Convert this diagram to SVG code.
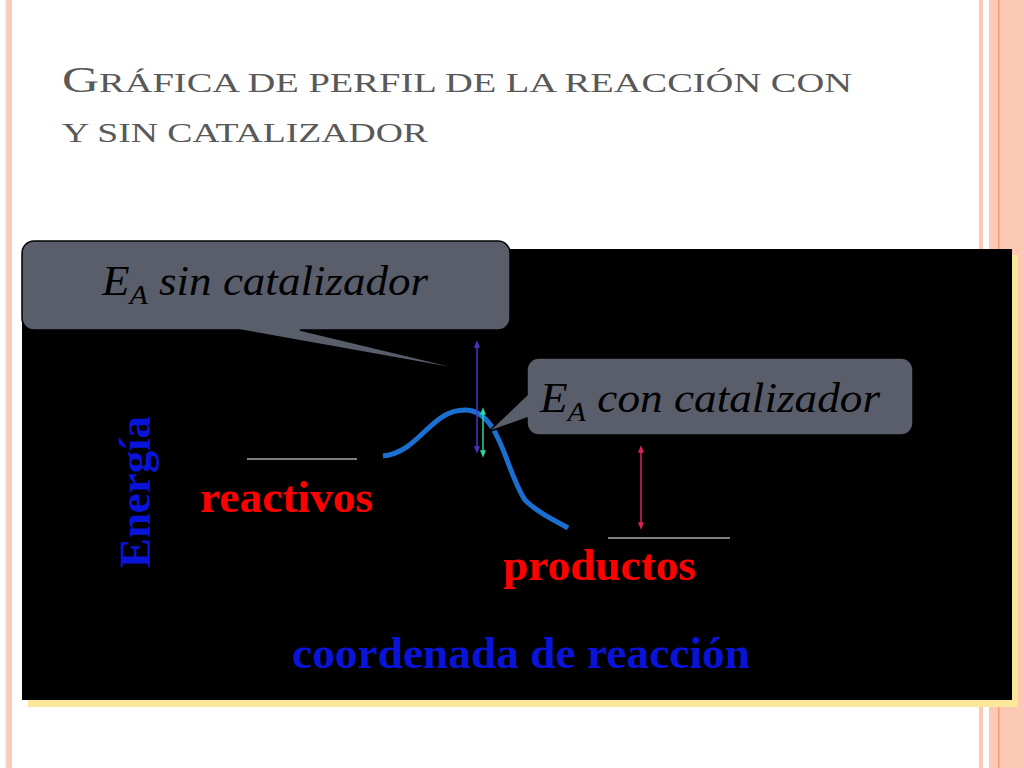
<svg xmlns="http://www.w3.org/2000/svg" width="1024" height="768" viewBox="0 0 1024 768">
<defs>
<marker id="a1" viewBox="0 0 10 10" refX="5" refY="5" markerWidth="5" markerHeight="5" orient="auto-start-reverse"><path d="M0,1L10,5L0,9z" fill="#4b32c8"/></marker>
<marker id="a2" viewBox="0 0 10 10" refX="5" refY="5" markerWidth="5" markerHeight="5" orient="auto-start-reverse"><path d="M0,1L10,5L0,9z" fill="#2ed69a"/></marker>
<marker id="a3" viewBox="0 0 10 10" refX="5" refY="5" markerWidth="5" markerHeight="5" orient="auto-start-reverse"><path d="M0,1L10,5L0,9z" fill="#e0205a"/></marker>
</defs>
<rect width="1024" height="768" fill="#fff"/>
<g id="borders">
<rect x="5" y="0" width="2" height="768" fill="#f8e0d0"/>
<rect x="7" y="0" width="5" height="768" fill="#fcc9b5"/>
<rect x="979" y="0" width="4" height="768" fill="#fcc9b5"/>
<rect x="989" y="0" width="35" height="768" fill="#fcc9b5"/>
<rect x="998" y="0" width="1.5" height="768" fill="#f0a07a"/>
</g>
<g id="title" font-family="Liberation Serif, DejaVu Serif, serif" fill="#595959">
<text x="62" y="92" textLength="790" lengthAdjust="spacingAndGlyphs"><tspan font-size="36">G</tspan><tspan font-size="27">RÁFICA DE PERFIL DE LA REACCIÓN CON</tspan></text>
<text x="62" y="142" font-size="27" textLength="366" lengthAdjust="spacingAndGlyphs">Y SIN CATALIZADOR</text>
</g>
<g id="chart" font-family="Liberation Serif, DejaVu Serif, serif" font-weight="bold" font-size="44">
<rect x="28" y="255" width="990" height="452" fill="#fbe89a"/>
<rect x="22" y="249" width="990" height="451" fill="#000"/>
<line x1="247" y1="459" x2="357" y2="459" stroke="#aaa" stroke-width="1.5"/>
<line x1="608" y1="538" x2="730" y2="538" stroke="#aaa" stroke-width="1.5"/>
<path d="M383,456 C420,452 430,410 465,410 C500,410 505,470 525,500 C540,515 555,520 568,528" fill="none" stroke="#1a6fd1" stroke-width="5"/>
<line x1="477" y1="344" x2="477" y2="450" stroke="#4b32c8" stroke-width="1.5" marker-start="url(#a1)" marker-end="url(#a1)"/>
<line x1="483" y1="411" x2="483" y2="454" stroke="#2ed69a" stroke-width="1.5" marker-start="url(#a2)" marker-end="url(#a2)"/>
<line x1="641" y1="449" x2="641" y2="526" stroke="#e0205a" stroke-width="1.5" marker-start="url(#a3)" marker-end="url(#a3)"/>
<text fill="#ff0000" x="200" y="512" textLength="173" lengthAdjust="spacingAndGlyphs">reactivos</text>
<text fill="#ff0000" x="503" y="580" textLength="193" lengthAdjust="spacingAndGlyphs">productos</text>
<text fill="#0a14d8" x="292" y="668" textLength="458" lengthAdjust="spacingAndGlyphs">coordenada de reacción</text>
<text fill="#0a14d8" transform="translate(150,568) rotate(-90)" textLength="152" lengthAdjust="spacingAndGlyphs">Energía</text>
</g>
<g id="callout1">
<path fill="#5a5e6b" stroke="#000" stroke-width="1.5" d="M34,241 H498 A12,12 0 0 1 510,253 V318 A12,12 0 0 1 498,330 H300 L475,372 L240,330 H34 A12,12 0 0 1 22,318 V253 A12,12 0 0 1 34,241 Z"/>
<text font-family="Liberation Serif, DejaVu Serif, serif" font-style="italic" font-size="42" x="102" y="295" textLength="326" lengthAdjust="spacingAndGlyphs">E<tspan font-size="28" dy="9">A</tspan><tspan dy="-9"> sin catalizador</tspan></text>
</g>
<g id="callout2">
<path fill="#5a5e6b" stroke="#000" stroke-width="1.5" d="M539,358 H901 A12,12 0 0 1 913,370 V423 A12,12 0 0 1 901,435 H539 A12,12 0 0 1 527,423 V418 L488,432 L527,395 V370 A12,12 0 0 1 539,358 Z"/>
<text font-family="Liberation Serif, DejaVu Serif, serif" font-style="italic" font-size="42" x="540" y="412" textLength="340" lengthAdjust="spacingAndGlyphs">E<tspan font-size="28" dy="9">A</tspan><tspan dy="-9"> con catalizador</tspan></text>
</g>
</svg>
